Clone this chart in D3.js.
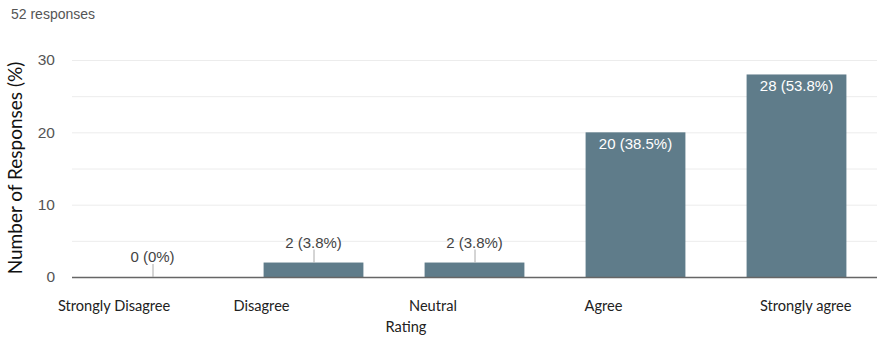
<!DOCTYPE html>
<html>
<head>
<meta charset="utf-8">
<script src="https://cdn.jsdelivr.net/npm/d3@7"></script>
<style>
  html, body { margin: 0; padding: 0; background: #fff; }
  svg { display: block; }
</style>
</head>
<body>
<svg id="chart" width="877" height="340"></svg>
<script>
// Survey ratings and their response counts
const categories = ["Strongly Disagree", "Disagree", "Neutral", "Agree", "Strongly agree"];
const counts = [0, 2, 2, 20, 28];
const percentLabels = ["0%", "3.8%", "3.8%", "38.5%", "53.8%"];
const yTicks = [0, 10, 20, 30];
const gridTicks = [0, 5, 10, 15, 20, 25, 30];
const totalLabel = "52 responses";

const svg = d3.select("#chart");
const plot = { left: 72, right: 877, top: 60, bottom: 277 };
const barColor = "#5f7c8a";
const sans = "'Liberation Sans', Arial, sans-serif";
const humanist = "Lato, sans-serif";

const y = d3.scaleLinear().domain([0, 30]).range([plot.bottom, plot.top]);
const x = d3.scaleBand().domain(categories)
  .range([72, 877]).paddingInner(0.38).paddingOuter(0.19);
// category captions sit on their own evenly spaced positions
const xLabel = d3.scalePoint().domain(categories).range([58, 760]);

svg.append("text")
  .attr("x", 11).attr("y", 19)
  .attr("font-family", sans).attr("font-size", 14)
  .attr("fill", "#555").text(totalLabel);

// gridlines
svg.append("g").selectAll("line").data(gridTicks).join("line")
  .attr("x1", plot.left).attr("x2", plot.right)
  .attr("y1", d => y(d) + 0.5).attr("y2", d => y(d) + 0.5)
  .attr("stroke", "#ececec").attr("stroke-width", 1);

// y axis labels
const yAxis = d3.axisLeft(y).tickValues(yTicks).tickSize(0).tickPadding(17);
const gy = svg.append("g").attr("transform", `translate(${plot.left},0)`).call(yAxis);
gy.select(".domain").remove();
gy.selectAll("text")
  .attr("font-family", sans).attr("font-size", 15.5)
  .attr("fill", "#555");

// bars
svg.append("g").selectAll("rect").data(counts).join("rect")
  .attr("x", (d, i) => x(categories[i]))
  .attr("width", x.bandwidth())
  .attr("y", d => y(d))
  .attr("height", d => y(0) - y(d))
  .attr("fill", barColor);

// baseline
svg.append("line")
  .attr("x1", plot.left).attr("x2", plot.right)
  .attr("y1", y(0) + 0.5).attr("y2", y(0) + 0.5)
  .attr("stroke", "#666").attr("stroke-width", 1.5);

// value labels: inside tall bars, above short ones with a leader line
const labels = svg.append("g");
counts.forEach((d, i) => {
  const cx = x(categories[i]) + x.bandwidth() / 2;
  const text = `${d} (${percentLabels[i]})`;
  if (d >= 10) {
    labels.append("text")
      .attr("x", cx).attr("y", y(d) + 16.5)
      .attr("text-anchor", "middle")
      .attr("font-family", sans).attr("font-size", 15)
      .attr("fill", "#fff").text(text);
  } else {
    labels.append("line")
      .attr("x1", cx + 0.5).attr("x2", cx + 0.5)
      .attr("y1", y(d)).attr("y2", y(d) - 13)
      .attr("stroke", "#aaa").attr("stroke-width", 1);
    labels.append("text")
      .attr("x", cx).attr("y", y(d) - 15)
      .attr("text-anchor", "middle")
      .attr("font-family", sans).attr("font-size", 15)
      .attr("fill", "#444").text(text);
  }
});

// category captions
svg.append("g").selectAll("text").data(categories).join("text")
  .attr("x", d => xLabel(d)).attr("y", 311)
  .attr("font-family", humanist).attr("font-size", 14.6)
  .attr("fill", "#222").text(d => d);

// axis titles
svg.append("text")
  .attr("x", 406).attr("y", 332).attr("text-anchor", "middle")
  .attr("font-family", humanist).attr("font-size", 14.6)
  .attr("fill", "#222").text("Rating");

svg.append("text")
  .attr("transform", "translate(22,168) rotate(-90)")
  .attr("text-anchor", "middle")
  .attr("font-family", humanist).attr("font-size", 19)
  .attr("fill", "#111").text("Number of Responses (%)");
</script>
</body>
</html>
